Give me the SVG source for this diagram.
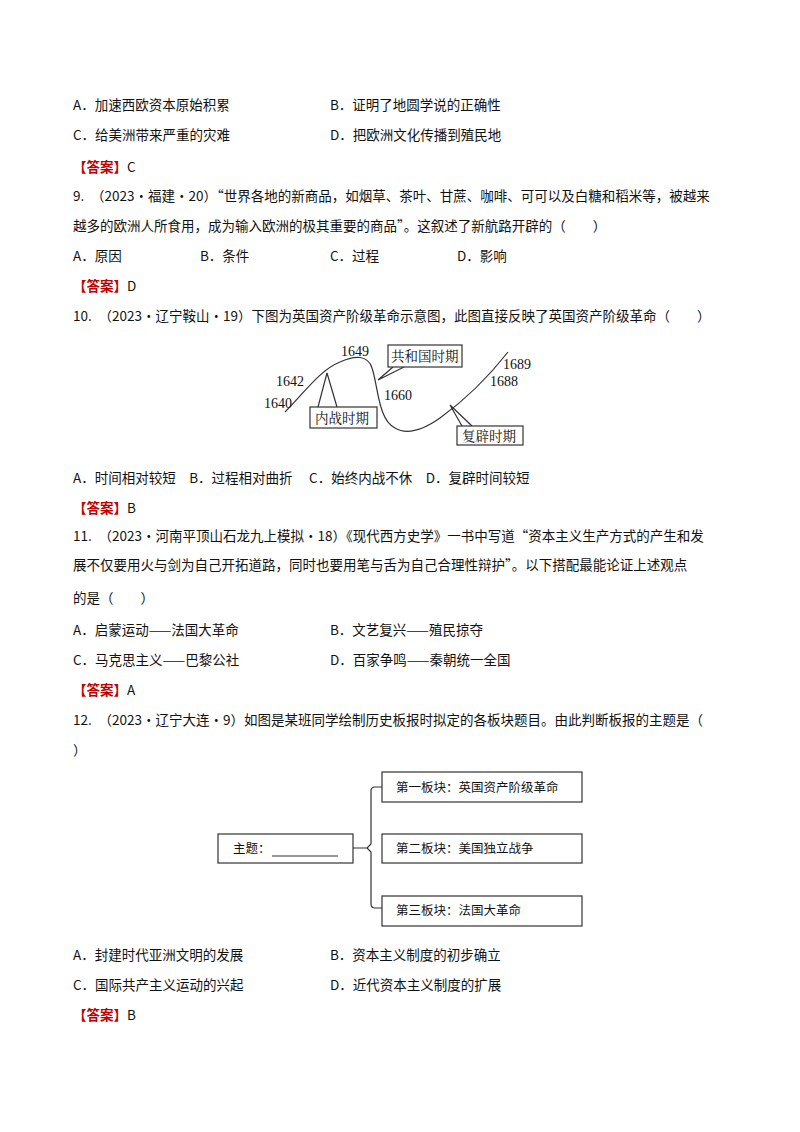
<svg xmlns="http://www.w3.org/2000/svg" width="800" height="1132" viewBox="0 0 800 1132">
<style>
text{font-family:"Noto Sans CJK SC","Liberation Serif",sans-serif;font-size:13.5px;fill:#111}
.a{fill:#c00000;font-weight:bold}
.n{font-family:"Liberation Serif",serif;font-size:14px}
.b{fill:#fff;stroke:#333;stroke-width:1.2}
.l{fill:none;stroke:#333;stroke-width:1.2}
.s{font-size:12.5px}
.c{font-size:13.5px;font-family:"Noto Serif CJK SC","Noto Sans CJK SC",serif}
</style>
<rect width="800" height="1132" fill="#fff"/>
<text x="73" y="110">A．加速西欧资本原始积累</text><text x="330" y="110">B．证明了地圆学说的正确性</text>
<text x="73" y="140">C．给美洲带来严重的灾难</text><text x="330" y="140">D．把欧洲文化传播到殖民地</text>
<text x="73" y="172"><tspan class="a">【答案】</tspan>C</text>
<text x="73" y="201">9.　（2023·福建·20）“世界各地的新商品，如烟草、茶叶、甘蔗、咖啡、可可以及白糖和稻米等，被越来</text>
<text x="73" y="231">越多的欧洲人所食用，成为输入欧洲的极其重要的商品”。这叙述了新航路开辟的（　　）</text>
<text x="73" y="261">A．原因</text><text x="200" y="261">B．条件</text><text x="330" y="261">C．过程</text><text x="457" y="261">D．影响</text>
<text x="73" y="291"><tspan class="a">【答案】</tspan>D</text>
<text x="73" y="321">10.　（2023·辽宁鞍山·19）下图为英国资产阶级革命示意图，此图直接反映了英国资产阶级革命（　　）</text>
<g id="curve">
<path class="l" d="M285,412 C305,392 320,370 340,362 C355,355 368,355 372,368 C378,385 378,420 395,428 C405,434 420,432 440,418 C465,400 490,375 508,352"/>
<path class="l" d="M327,373 L318,407 M327,373 L337,407 M378,380 L393,367 M378,380 L404,367 M450,405 L462,426 M450,405 L472,426"/>
</g>
<g id="labels">
<text class="n" x="264" y="408">1640</text><text class="n" x="276" y="386">1642</text>
<text class="n" x="341" y="356">1649</text><text class="n" x="384" y="400">1660</text>
<text class="n" x="503" y="369">1689</text><text class="n" x="490" y="386">1688</text>
</g>
<g id="box1"><rect class="b" x="310" y="407" width="67" height="21"/><text class="c" x="315" y="423">内战时期</text></g>
<g id="box2"><rect class="b" x="388" y="345" width="74" height="22"/><text class="c" x="391" y="361">共和国时期</text></g>
<g id="box3"><rect class="b" x="457" y="426" width="66" height="19"/><text class="c" x="462" y="441">复辟时期</text></g>
<text x="73" y="483">A．时间相对较短　B．过程相对曲折　 C．始终内战不休　D．复辟时间较短</text>
<text x="73" y="513"><tspan class="a">【答案】</tspan>B</text>
<text x="73" y="541">11.　（2023·河南平顶山石龙九上模拟·18）《现代西方史学》一书中写道“资本主义生产方式的产生和发</text>
<text x="73" y="570">展不仅要用火与剑为自己开拓道路，同时也要用笔与舌为自己合理性辩护”。以下搭配最能论证上述观点</text>
<text x="73" y="603">的是（　　）</text>
<text x="73" y="635">A．启蒙运动——法国大革命</text><text x="330" y="635">B．文艺复兴——殖民掠夺</text>
<text x="73" y="665">C．马克思主义——巴黎公社</text><text x="330" y="665">D．百家争鸣——秦朝统一全国</text>
<text x="73" y="695"><tspan class="a">【答案】</tspan>A</text>
<text x="73" y="725">12.　（2023·辽宁大连·9）如图是某班同学绘制历史板报时拟定的各板块题目。由此判断板报的主题是（</text>
<text x="73" y="755">）</text>
<g id="connectors"><path class="l" d="M353,848 L367,848 M382,787 L375,787 Q371,787 371,791 L371,844 L367,848 L371,852 L371,904 Q371,908 375,908 L382,908"/></g>
<g id="theme"><rect class="b" x="218" y="834" width="135" height="29"/><text class="s" x="233" y="853">主题：</text><line class="l" x1="272" y1="856" x2="338" y2="856"/></g>
<g id="p1"><rect class="b" x="382" y="772" width="200" height="30"/><text class="s" x="396" y="792">第一板块：英国资产阶级革命</text></g>
<g id="p2"><rect class="b" x="382" y="834" width="200" height="29"/><text class="s" x="396" y="853">第二板块：美国独立战争</text></g>
<g id="p3"><rect class="b" x="382" y="896" width="200" height="30"/><text class="s" x="396" y="915">第三板块：法国大革命</text></g>
<text x="73" y="960">A．封建时代亚洲文明的发展</text><text x="330" y="960">B．资本主义制度的初步确立</text>
<text x="73" y="990">C．国际共产主义运动的兴起</text><text x="330" y="990">D．近代资本主义制度的扩展</text>
<text x="73" y="1020"><tspan class="a">【答案】</tspan>B</text>
</svg>
